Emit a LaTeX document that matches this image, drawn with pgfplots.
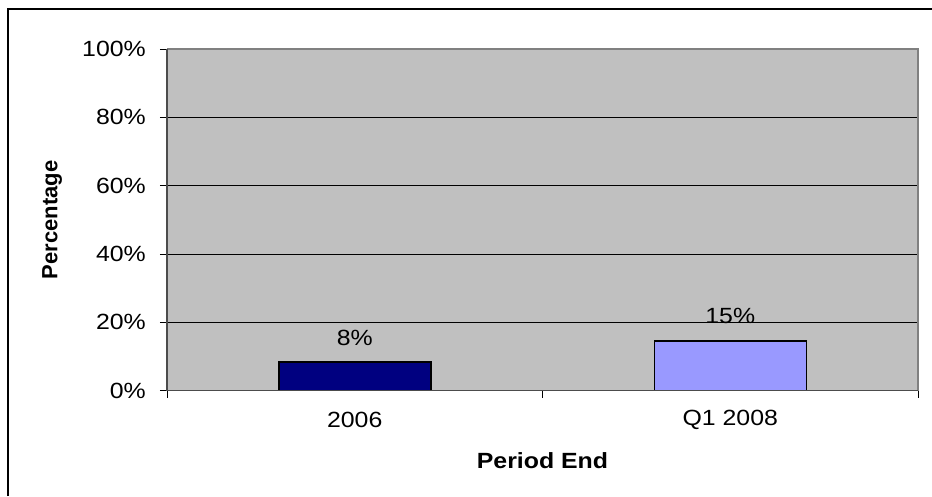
\documentclass[border=0pt]{standalone}
\usepackage{fontspec}
\setmainfont{Liberation Sans}[FakeStretch=1.13]
\newfontfamily\plainsans{Liberation Sans}
\usepackage{pgfplots}
\pgfplotsset{compat=1.18}
\definecolor{plotgray}{HTML}{C0C0C0}
\definecolor{navybar}{HTML}{000080}
\definecolor{periwinkle}{HTML}{9999FF}
\begin{document}
\begin{tikzpicture}
\useasboundingbox (0pt,0pt) rectangle (932pt,496pt);
\draw[black, line width=1.3pt] (8pt,0pt) -- (8pt,487pt) -- (932pt,487pt);
\begin{axis}[
  at={(167pt,105.3pt)}, anchor=south west,
  scale only axis, width=751pt, height=341.7pt,
  xmin=-0.5, xmax=1.5, ymin=0, ymax=100,
  axis background/.style={fill=plotgray},
  axis line style={draw=none},
  font=\fontsize{22}{26}\selectfont,
  /pgf/number format/assume math mode=true,
  ytick={0,20,40,60,80,100},
  yticklabel={\pgfmathprintnumber{\tick}\%},
  yticklabel style={anchor=east, inner sep=0pt, xshift=-14pt, font=\fontsize{22}{26}\selectfont},
  xtick={0,1},
  xticklabels={2006, Q1 2008},
  xticklabel style={anchor=center, inner sep=0pt, yshift=-22pt, font=\fontsize{22}{26}\selectfont},
  major x tick style={draw=none},
  minor xtick={-0.5,0.5,1.5},
  tick align=outside,
  major tick length=7pt, minor tick length=7pt,
  tick style={black, line width=0.8pt},
  tick pos=left,
  ymajorgrids,
  grid style={black, line width=0.8pt},
  xlabel={Period End},
  ylabel={Percentage},
  xlabel style={at={(axis description cs:0.5,-0.2057)}, anchor=center, font=\fontsize{22}{26}\selectfont\bfseries},
  ylabel style={at={(axis description cs:-0.1531,0.5)}, anchor=center, font=\fontsize{22}{26}\selectfont\plainsans\bfseries},
  ybar, bar width=152pt, bar shift=0pt,
  nodes near coords,
  point meta=explicit symbolic,
  every node near coord/.style={anchor=south, inner sep=0pt, yshift=16pt, black, font=\fontsize{22}{26}\selectfont},
  clip=false,
]
\addplot[fill=navybar, draw=black, line width=1.5pt] coordinates {(0,8.4) [8\%]};
\addplot[fill=periwinkle, draw=black, line width=1.5pt] coordinates {(1,14.6) [15\%]};
\draw[gray, line width=1.5pt] (rel axis cs:0,1) -- (rel axis cs:1,1) -- (rel axis cs:1,0);
\draw[black!70, line width=1.3pt] (rel axis cs:0,1) -- (rel axis cs:0,0) -- (rel axis cs:1,0);
\end{axis}
\end{tikzpicture}
\end{document}
